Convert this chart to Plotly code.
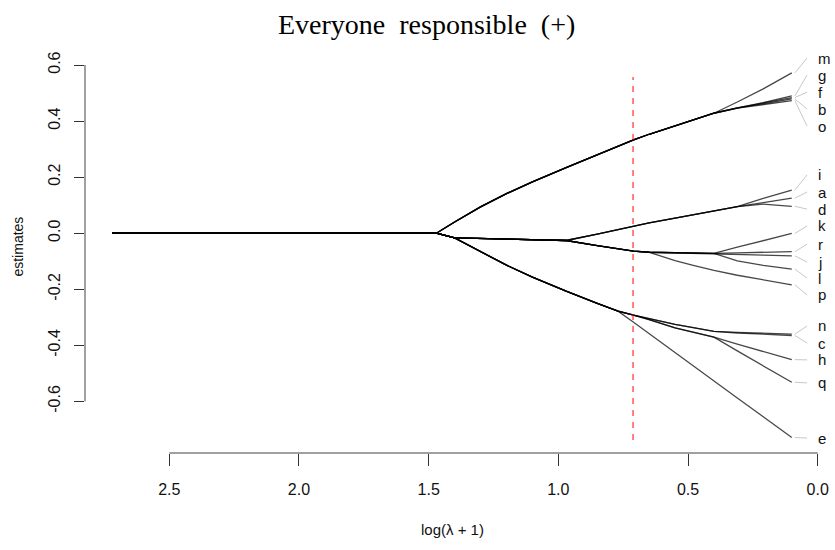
import plotly.graph_objects as go

# log(lambda + 1) grid (x axis, reversed)
x_grid = [2.72, 1.47, 1.40, 1.30, 1.20, 1.10, 0.97, 0.85, 0.77, 0.71, 0.65, 0.55, 0.48, 0.40, 0.31, 0.21, 0.10]

# coefficient paths (estimates) for each variable
m = [0, 0, 0.040, 0.094, 0.141, 0.183, 0.234, 0.280, 0.310, 0.333, 0.353, 0.384, 0.405, 0.428, 0.468, 0.515, 0.572]
g = [0, 0, 0.040, 0.094, 0.141, 0.183, 0.234, 0.280, 0.310, 0.333, 0.353, 0.384, 0.405, 0.428, 0.447, 0.466, 0.490]
f = [0, 0, 0.040, 0.094, 0.141, 0.183, 0.234, 0.280, 0.310, 0.333, 0.353, 0.384, 0.405, 0.428, 0.447, 0.464, 0.484]
b = [0, 0, 0.040, 0.094, 0.141, 0.183, 0.234, 0.280, 0.310, 0.333, 0.353, 0.384, 0.405, 0.428, 0.446, 0.462, 0.479]
o = [0, 0, 0.040, 0.094, 0.141, 0.183, 0.234, 0.280, 0.310, 0.333, 0.353, 0.384, 0.405, 0.428, 0.446, 0.460, 0.473]
i = [0, 0, -0.017, -0.019, -0.021, -0.023, -0.026, -0.003, 0.013, 0.026, 0.037, 0.054, 0.066, 0.080, 0.095, 0.124, 0.154]
a = [0, 0, -0.017, -0.019, -0.021, -0.023, -0.026, -0.003, 0.013, 0.026, 0.037, 0.054, 0.066, 0.080, 0.095, 0.109, 0.125]
d = [0, 0, -0.017, -0.019, -0.021, -0.023, -0.026, -0.003, 0.013, 0.026, 0.037, 0.054, 0.066, 0.080, 0.095, 0.104, 0.096]
k = [0, 0, -0.017, -0.019, -0.021, -0.023, -0.026, -0.044, -0.056, -0.064, -0.068, -0.070, -0.071, -0.072, -0.050, -0.027, -0.001]
r = [0, 0, -0.017, -0.019, -0.021, -0.023, -0.026, -0.044, -0.056, -0.064, -0.068, -0.070, -0.071, -0.072, -0.070, -0.068, -0.066]
j = [0, 0, -0.017, -0.019, -0.021, -0.023, -0.026, -0.044, -0.056, -0.064, -0.068, -0.070, -0.071, -0.072, -0.075, -0.078, -0.081]
l = [0, 0, -0.017, -0.019, -0.021, -0.023, -0.026, -0.044, -0.056, -0.064, -0.068, -0.070, -0.071, -0.072, -0.099, -0.115, -0.128]
p = [0, 0, -0.017, -0.019, -0.021, -0.023, -0.026, -0.044, -0.056, -0.064, -0.068, -0.098, -0.115, -0.133, -0.150, -0.167, -0.184]
n = [0, 0, -0.017, -0.067, -0.114, -0.157, -0.207, -0.250, -0.278, -0.292, -0.305, -0.325, -0.337, -0.350, -0.354, -0.357, -0.360]
c = [0, 0, -0.017, -0.067, -0.114, -0.157, -0.207, -0.250, -0.278, -0.292, -0.305, -0.325, -0.337, -0.350, -0.356, -0.360, -0.365]
h = [0, 0, -0.017, -0.067, -0.114, -0.157, -0.207, -0.250, -0.278, -0.292, -0.308, -0.338, -0.353, -0.371, -0.396, -0.422, -0.451]
q = [0, 0, -0.017, -0.067, -0.114, -0.157, -0.207, -0.250, -0.278, -0.292, -0.308, -0.338, -0.353, -0.371, -0.420, -0.474, -0.532]
e = [0, 0, -0.017, -0.067, -0.114, -0.157, -0.207, -0.250, -0.278, -0.318, -0.359, -0.426, -0.473, -0.527, -0.588, -0.655, -0.729]

names = ["m", "g", "f", "b", "o", "i", "a", "d", "k", "r", "j", "l", "p", "n", "c", "h", "q", "e"]
paths = [m, g, f, b, o, i, a, d, k, r, j, l, p, n, c, h, q, e]
# label positions (spread out on the right margin)
label_y = [0.625, 0.564, 0.503, 0.443, 0.382, 0.208, 0.147, 0.086, 0.026, -0.039,
           -0.103, -0.160, -0.220, -0.331, -0.392, -0.452, -0.534, -0.731]

x_ticks = [2.5, 2.0, 1.5, 1.0, 0.5, 0.0]
x_ticklabels = ["2.5", "2.0", "1.5", "1.0", "0.5", "0.0"]
y_ticks = [0.6, 0.4, 0.2, 0.0, -0.2, -0.4, -0.6]
y_ticklabels = ["0.6", "0.4", "0.2", "0.0", "-0.2", "-0.4", "-0.6"]

lam_sel = 0.712          # selected log(lambda+1)
sel_span = [-0.738, 0.557]

SANS = "Liberation Sans, Arial, Helvetica, sans-serif"
SERIF = "Liberation Serif, Times New Roman, serif"

fig = go.Figure()

for nm, ys in zip(names, paths):
    fig.add_trace(go.Scatter(x=x_grid, y=ys, mode="lines", name=nm,
                             line=dict(color="rgba(0,0,0,0.72)", width=1.3),
                             showlegend=False, hoverinfo="name"))

# leader lines and labels
x_lead0, x_lead1, x_lab = 0.088, 0.041, 0.004
for nm, ys, ly in zip(names, paths, label_y):
    fig.add_trace(go.Scatter(x=[x_lead0, x_lead1], y=[ys[-1], ly], mode="lines",
                             line=dict(color="#c8c8c8", width=1),
                             showlegend=False, hoverinfo="skip"))
    fig.add_annotation(x=x_lab, y=ly, text=nm, showarrow=False, xanchor="left",
                       yanchor="middle", font=dict(family=SANS, size=15, color="#111"),
                       borderpad=0)

# dashed selection line
fig.add_shape(type="line", xref="x", yref="y", x0=lam_sel, x1=lam_sel,
              y0=sel_span[0], y1=sel_span[1],
              line=dict(color="red", width=1, dash="6px,6px"))

# R-style axis lines spanning the tick range
fig.add_shape(type="line", xref="x", yref="paper", x0=x_ticks[0], x1=x_ticks[-1], y0=0, y1=0,
              line=dict(color="#808080", width=1.5))
fig.add_shape(type="line", xref="paper", yref="y", x0=0, x1=0, y0=y_ticks[-1], y1=y_ticks[0],
              line=dict(color="#808080", width=1.5))

# titles
fig.add_annotation(xref="paper", yref="paper", x=0.459, y=1.0387, text="Everyone\u00a0\u00a0responsible\u00a0\u00a0(+)",
                   showarrow=False, xanchor="center", yanchor="middle",
                   font=dict(family=SERIF, size=28, color="#000"))
fig.add_annotation(xref="paper", yref="paper", x=-0.0912, y=0.5, text="estimates", textangle=-90,
                   showarrow=False, xanchor="center", yanchor="middle",
                   font=dict(family=SANS, size=14, color="#111"))
fig.add_annotation(xref="paper", yref="paper", x=0.493, y=-0.185, text="log(\u03bb + 1)",
                   showarrow=False, xanchor="center", yanchor="middle",
                   font=dict(family=SANS, size=15, color="#111"))

fig.update_layout(
    width=835, height=550,
    margin=dict(l=85, r=5, t=40, b=97),
    paper_bgcolor="white", plot_bgcolor="white",
    xaxis=dict(range=[2.825, -0.0474], tickvals=x_ticks, ticktext=x_ticklabels,
               showgrid=False, zeroline=False, showline=False,
               ticks="outside", ticklen=12, tickcolor="#333", tickwidth=1,
               ticklabelstandoff=10,
               tickfont=dict(family=SANS, size=16, color="#111")),
    yaxis=dict(range=[-0.7842, 0.6893], tickvals=y_ticks, ticktext=y_ticklabels,
               showgrid=False, zeroline=False, showline=False,
               ticks="outside", ticklen=10, tickcolor="#333", tickwidth=1,
               tickangle=-90, ticklabelstandoff=8,
               tickfont=dict(family=SANS, size=16, color="#111")),
)

fig.write_html("out.html")
